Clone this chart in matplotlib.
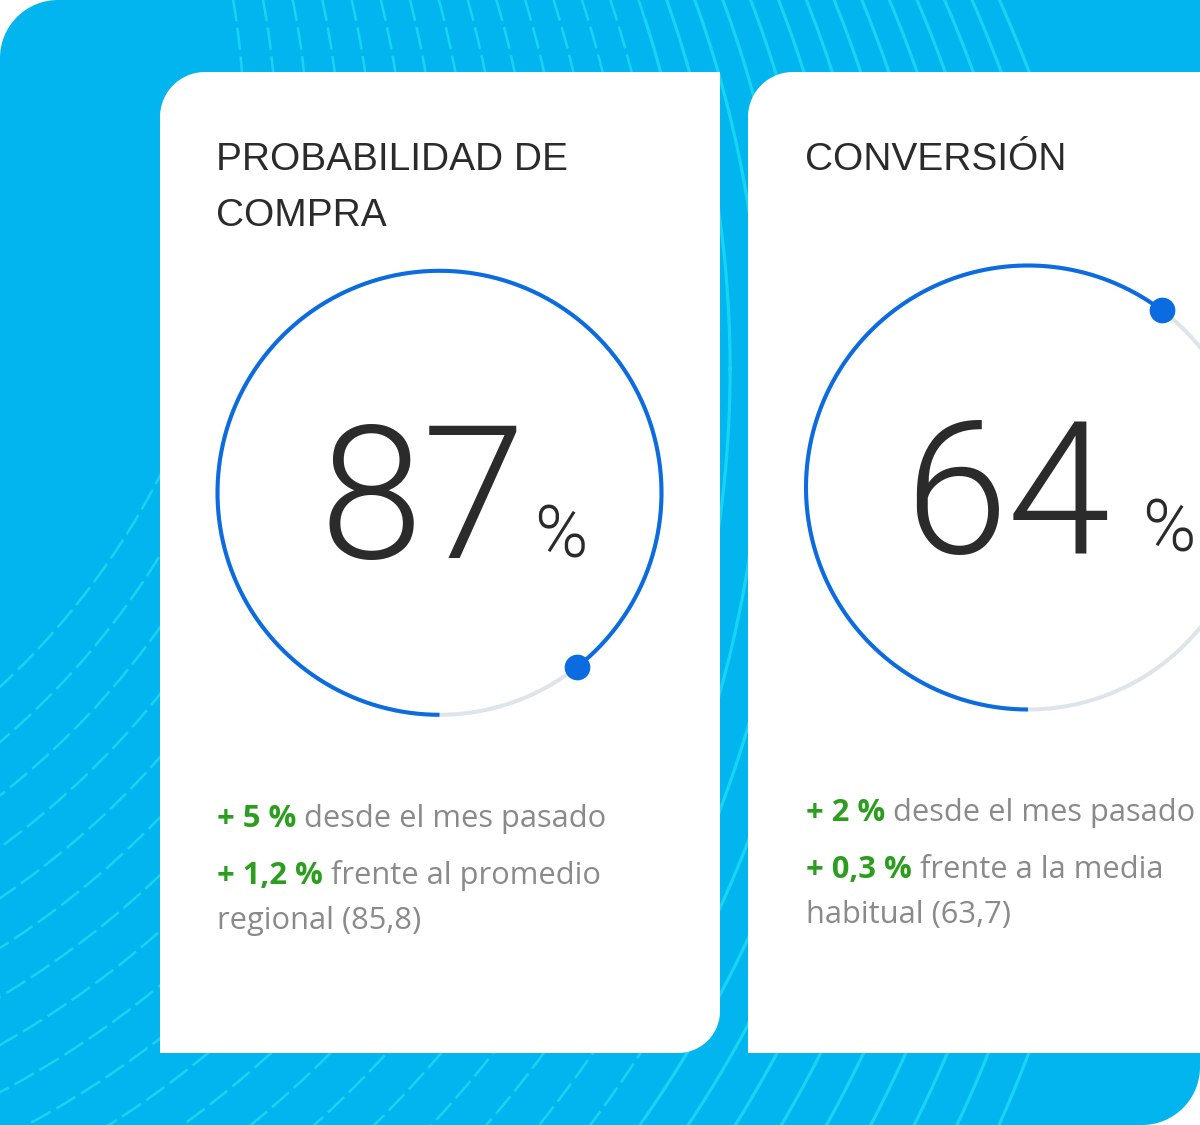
import numpy as np
import matplotlib.pyplot as plt
from matplotlib.patches import Polygon

# ---------------------------------------------------------------
# datos de las dos tarjetas
# ---------------------------------------------------------------
titulos = [["PROBABILIDAD DE", "COMPRA"], ["CONVERSIÓN"]]
valores = [87, 64]
relleno_anillo = [89.4, 60.3]          # parte azul del anillo tal como se dibuja (%)
cambio_mes = ["+ 5 %", "+ 2 %"]
texto_mes = "desde el mes pasado"
cambio_ref = ["+ 1,2 %", "+ 0,3 %"]
texto_ref = [["frente al promedio", "regional (85,8)"],
             ["frente a la media", "habitual (63,7)"]]

W, H = 1200, 1125
AZUL_FONDO = "#02B5EE"
LINEA_FONDO = "#18D4F4"
AZUL = "#0B6BE0"
GRIS_PISTA = "#DDE5EA"
NEGRO = "#2B2B2B"
VERDE = "#2B9E1E"
GRIS = "#8A8A8A"


def caja_redondeada(x0, y0, x1, y1, r_si=0, r_id=0, n=24):
    # esquina superior izquierda y esquina inferior derecha redondeadas (y hacia abajo)
    a = np.linspace(np.pi, 1.5 * np.pi, n)
    si = np.c_[x0 + r_si + r_si * np.cos(a), y0 + r_si + r_si * np.sin(a)]
    b = np.linspace(0, 0.5 * np.pi, n)
    idr = np.c_[x1 - r_id + r_id * np.cos(b), y1 - r_id + r_id * np.sin(b)]
    return np.vstack([si, [[x1, y0]], idr, [[x0, y1]]])


fig = plt.figure(figsize=(12, 11.25), dpi=100, facecolor="white")
ax = fig.add_axes([0, 0, 1, 1])
ax.set_xlim(0, W)
ax.set_ylim(H, 0)
ax.axis("off")

# fondo azul
fondo = Polygon(caja_redondeada(0, 0, W, H, 58, 58), closed=True,
                facecolor=AZUL_FONDO, edgecolor="none", zorder=0)
ax.add_patch(fondo)

# lineas decorativas del fondo (familia de arcos)
t = np.linspace(0, 2 * np.pi, 2400)
c0, c1 = np.array([-518.0, 128.0]), np.array([-262.0, 562.0])
r0, r1 = 762.0, 1381.0
for f in np.linspace(0, 1, 28):
    cx, cy = c0 + f * (c1 - c0)
    rr = r0 + f * (r1 - r0)
    xs = cx + rr * np.cos(t)
    ys = cy + rr * np.sin(t)
    ys_d = np.where(xs < 650, ys, np.nan)
    ys_s = np.where(xs >= 645, ys, np.nan)
    l1, = ax.plot(xs, ys_d, color=LINEA_FONDO, lw=1.8, dashes=(9, 2.6), zorder=1)
    l2, = ax.plot(xs, ys_s, color=LINEA_FONDO, lw=2.3, zorder=1)
    l1.set_clip_path(fondo)
    l2.set_clip_path(fondo)

# tarjetas blancas
tarjetas = [(160, 72, 720, 1053, 45, 42), (748, 72, 1300, 1053, 45, 0)]
for x0, y0, x1, y1, rsi, rid in tarjetas:
    ax.add_patch(Polygon(caja_redondeada(x0, y0, x1, y1, rsi, rid), closed=True,
                         facecolor="white", edgecolor="none", zorder=2))

# posiciones de cada tarjeta
x_texto = [217, 806]
centro = [(439.5, 492.8), (1028, 487.5)]
radio = 222
y_num = [558, 553]
x_num = [423, 1007]
x_pct = [534, 1142]
y_base = [827, 821]
FS = 22.2

renderer = fig.canvas.get_renderer()


def linea_mixta(x, y, verde, gris):
    t1 = ax.text(x, y, verde, color=VERDE, fontsize=FS, family="Open Sans",
                 weight="bold", va="baseline", zorder=3)
    bb = t1.get_window_extent(renderer=renderer)
    ax.text(bb.x1, y, " " + gris, color=GRIS, fontsize=FS, family="Open Sans",
            va="baseline", zorder=3)


for i in range(2):
    for j, linea in enumerate(titulos[i]):
        ax.text(x_texto[i] - 1, 170 + 56 * j, linea, fontsize=28, family="Liberation Sans",
                color=NEGRO, va="baseline", zorder=3)

    ax.text(x_num[i], y_num[i], str(valores[i]), fontsize=134, family="Roboto",
            weight=300, color=NEGRO, ha="center", va="baseline", zorder=3)
    ax.text(x_pct[i], y_num[i] - 1, "%", fontsize=52, family="Roboto",
            weight=300, color=NEGRO, va="baseline", zorder=3)

    linea_mixta(x_texto[i], y_base[i], cambio_mes[i], texto_mes)
    linea_mixta(x_texto[i], y_base[i] + 57, cambio_ref[i], texto_ref[i][0])
    ax.text(x_texto[i], y_base[i] + 102, texto_ref[i][1], color=GRIS, fontsize=FS,
            family="Open Sans", va="baseline", zorder=3)

    # anillo en ejes polares
    rmax = 1.08
    half = radio * rmax
    cx, cy = centro[i]
    ag = fig.add_axes([(cx - half) / W, (H - cy - half) / H, 2 * half / W, 2 * half / H],
                      projection="polar")
    ag.set_theta_zero_location("S")
    ag.set_theta_direction(-1)
    ag.set_ylim(0, rmax)
    ag.set_facecolor("none")
    ag.axis("off")
    th = np.linspace(0, 2 * np.pi, 500)
    ag.plot(th, np.ones_like(th), color=GRIS_PISTA, lw=2.9, solid_capstyle="butt")
    fin = relleno_anillo[i] / 100 * 2 * np.pi
    th2 = np.linspace(0, fin, 500)
    ag.plot(th2, np.ones_like(th2), color=AZUL, lw=2.9, solid_capstyle="butt")
    ag.plot([fin], [1], "o", color=AZUL, markersize=18.5, markeredgewidth=0)

fig.savefig("out.png", dpi=100, facecolor="white")
